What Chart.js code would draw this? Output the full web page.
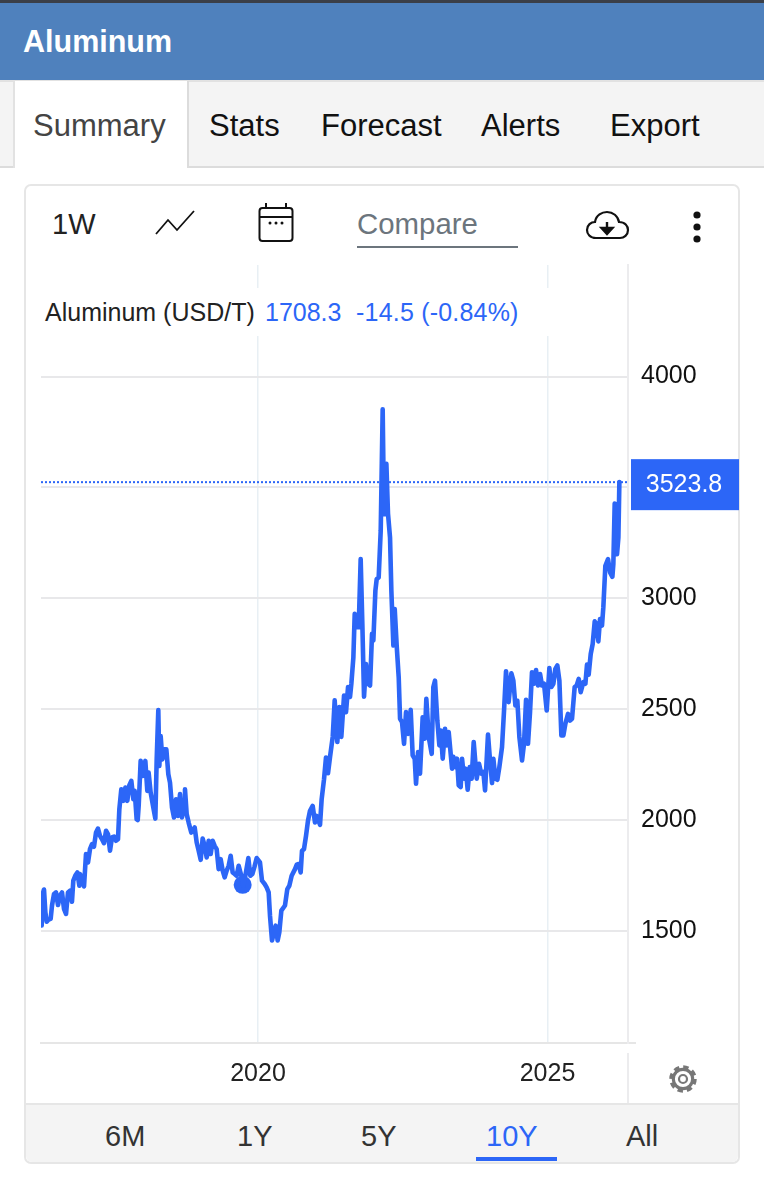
<!DOCTYPE html>
<html lang="en">
<head>
<meta charset="utf-8">
<title>Aluminum</title>
<script src="https://cdn.jsdelivr.net/npm/chart.js@4/dist/chart.umd.min.js"></script>
<style>
html,body{margin:0;padding:0;background:#fff;}
body{position:relative;width:764px;height:1200px;overflow:hidden;font-family:"Liberation Sans",Arial,sans-serif;color:#111;}
.a{position:absolute;white-space:nowrap;}
.box{position:absolute;box-sizing:border-box;}
svg{position:absolute;overflow:visible;left:0;top:0;}
canvas{position:absolute;left:0;top:0;pointer-events:none;}
</style>
</head>
<body>
<div class="box" style="left:0;top:0;width:764px;height:3px;background:#3b3f48"></div>
<div class="box" style="left:0;top:3px;width:764px;height:77px;background:#4f81bd"></div>
<div class="a" style="left:23px;top:21px;line-height:40px;font-size:30.5px;font-weight:bold;color:#fff">Aluminum</div>

<div class="box" style="left:0;top:80px;width:764px;height:88px;background:#f4f4f4;border-top:2px solid #e2e2e2;border-bottom:2px solid #dcdcdc"></div>
<div class="box" style="left:13px;top:81px;width:176px;height:87px;background:#fff;border-left:2px solid #e2e2e2;border-right:2px solid #dcdcdc"></div>
<div class="a" style="left:33px;top:105px;line-height:42px;font-size:31px;color:#444">Summary</div>
<div class="a" style="left:209px;top:105px;line-height:42px;font-size:31px">Stats</div>
<div class="a" style="left:321px;top:105px;line-height:42px;font-size:31px">Forecast</div>
<div class="a" style="left:481px;top:105px;line-height:42px;font-size:31px">Alerts</div>
<div class="a" style="left:610px;top:105px;line-height:42px;font-size:31px">Export</div>

<div class="box" style="left:24px;top:184px;width:716px;height:980px;border:2px solid #e6e6e6;border-radius:7px;background:#fff"></div>

<div class="a" style="left:52px;top:204px;line-height:40px;font-size:29px;color:#222">1W</div>
<div class="a" style="left:357px;top:204px;line-height:40px;font-size:29.4px;color:#6c757d">Compare</div>
<div class="box" style="left:357px;top:246px;width:161px;height:2px;background:#6c757d"></div>
<svg width="764" height="300" viewBox="0 0 764 300">
  <polyline points="156,234 168,220 177,230 194,211" fill="none" stroke="#111" stroke-width="1.8"/>
  <rect x="259.5" y="208" width="33" height="33" rx="3" fill="none" stroke="#111" stroke-width="2"/>
  <line x1="259" y1="217" x2="293" y2="217" stroke="#111" stroke-width="2"/>
  <line x1="266" y1="203" x2="266" y2="208" stroke="#111" stroke-width="2"/>
  <line x1="286" y1="203" x2="286" y2="208" stroke="#111" stroke-width="2"/>
  <circle cx="270" cy="223" r="1.5" fill="#111"/><circle cx="276" cy="223" r="1.5" fill="#111"/><circle cx="282" cy="223" r="1.5" fill="#111"/>
  <path d="M596,238 C590,238 587,234 587,230 C587,225 591,222 595,222 C596,215 602,212 607,212 C613,212 618,216 619,222 C625,222 628,226 628,230 C628,235 624,238 620,238 Z" fill="none" stroke="#111" stroke-width="2.2"/>
  <path d="M607,222 V229 M601.5,228 H612.5 L607,234 Z" fill="#111" stroke="#111" stroke-width="2.4"/>
  <circle cx="697" cy="215" r="3.6" fill="#111"/><circle cx="697" cy="227" r="3.6" fill="#111"/><circle cx="697" cy="239" r="3.6" fill="#111"/>
</svg>

<div class="box" style="left:627px;top:1053px;width:2px;height:50px;background:#ececee"></div>
<div class="box" style="left:628px;top:1042px;width:8px;height:2px;background:#e6e6e6"></div>

<div class="box" style="left:26px;top:1103px;width:712px;height:59px;background:#f4f4f4;border-top:2px solid #e6e6e6;border-radius:0 0 6px 6px"></div>
<div class="a" style="left:105px;top:1116px;line-height:40px;font-size:29px;color:#333">6M</div>
<div class="a" style="left:237px;top:1116px;line-height:40px;font-size:29px;color:#333">1Y</div>
<div class="a" style="left:361px;top:1116px;line-height:40px;font-size:29px;color:#333">5Y</div>
<div class="a" style="left:486px;top:1116px;line-height:40px;font-size:29px;color:#2c66f7">10Y</div>
<div class="a" style="left:626px;top:1116px;line-height:40px;font-size:29px;color:#333">All</div>
<div class="box" style="left:476px;top:1157px;width:81px;height:4px;background:#2c66f7"></div>

<svg width="764" height="1200" viewBox="0 0 764 1200">
  <g transform="translate(683,1079)" fill="none" stroke="#777">
    <circle r="10" stroke-width="2.4"/>
    <circle r="12" stroke-width="3.5" stroke-dasharray="5.4 4"/>
    <circle r="9.2" fill="#fff" stroke-width="2.2"/>
    <circle r="4" stroke-width="2.2"/>
  </g>
</svg>

<canvas id="chart" width="764" height="1200"></canvas>

<div class="box" style="left:30px;top:288px;width:570px;height:48px;background:#fff"></div>
<div class="a" style="left:45px;top:297px;line-height:30px;font-size:25px;color:#222">Aluminum (USD/T)</div>
<div class="a" style="left:265px;top:297px;line-height:30px;font-size:25px;color:#2c66f7">1708.3</div>
<div class="a" style="left:356px;top:297px;line-height:30px;font-size:25px;letter-spacing:.2px;color:#2c66f7">-14.5 (-0.84%)</div>

<script>
const years = [
2016.264,2016.281,2016.304,2016.327,2016.350,2016.384,2016.419,2016.442,2016.477,2016.511,2016.546,2016.580,2016.615,2016.649,2016.684,2016.718,2016.753,2016.787,2016.810,2016.845,2016.880,2016.914,2016.926,2016.960,2016.995,
2017.029,2017.064,2017.098,2017.133,2017.167,2017.202,2017.236,2017.271,2017.306,2017.340,2017.375,2017.409,2017.444,2017.478,2017.513,2017.547,2017.582,2017.605,2017.639,2017.674,2017.709,2017.743,2017.778,2017.812,2017.847,2017.870,2017.904,2017.922,2017.939,2017.973,
2018.008,2018.054,2018.088,2018.111,2018.146,2018.192,2018.227,2018.250,2018.278,2018.296,2018.319,2018.348,2018.382,2018.417,2018.451,2018.480,2018.515,2018.549,2018.584,2018.618,2018.653,2018.687,2018.722,2018.739,2018.768,2018.802,2018.848,2018.906,2018.941,2018.975,
2019.010,2019.044,2019.079,2019.113,2019.148,2019.182,2019.217,2019.251,2019.286,2019.320,2019.355,2019.390,2019.424,2019.459,2019.493,2019.528,2019.562,2019.597,2019.631,2019.666,2019.712,2019.746,2019.781,2019.833,2019.867,2019.902,2019.936,2019.977,
2020.034,2020.069,2020.115,2020.149,2020.184,2020.207,2020.242,2020.276,2020.305,2020.339,2020.368,2020.403,2020.466,2020.506,2020.541,2020.581,2020.639,2020.668,2020.702,2020.737,2020.760,2020.794,2020.829,2020.863,2020.898,2020.944,2020.984,
2021.013,2021.071,2021.099,2021.140,2021.174,2021.209,2021.244,2021.290,2021.324,2021.370,2021.405,2021.439,2021.486,2021.520,2021.555,2021.589,2021.612,2021.647,2021.670,2021.704,2021.739,2021.773,2021.802,2021.831,2021.865,2021.900,2021.935,2021.969,2021.992,
2022.027,2022.050,2022.084,2022.119,2022.153,2022.176,2022.199,2022.217,2022.245,2022.280,2022.303,2022.338,2022.361,2022.395,2022.430,2022.453,2022.487,2022.522,2022.556,2022.591,2022.637,2022.671,2022.706,2022.729,2022.764,2022.798,2022.844,2022.879,2022.907,2022.948,
2023.000,2023.028,2023.057,2023.097,2023.132,2023.155,2023.190,2023.230,2023.259,2023.293,2023.351,2023.374,2023.408,2023.437,2023.466,2023.500,2023.524,2023.558,2023.587,2023.621,2023.656,2023.690,2023.725,2023.777,2023.817,2023.857,2023.892,2023.921,2023.972,
2024.007,2024.042,2024.065,2024.099,2024.134,2024.168,2024.214,2024.249,2024.283,2024.329,2024.376,2024.410,2024.445,2024.479,2024.514,2024.560,2024.594,2024.629,2024.663,2024.698,2024.732,2024.767,2024.802,2024.836,2024.871,2024.905,2024.940,2024.986,
2025.032,2025.066,2025.101,2025.135,2025.170,2025.205,2025.239,2025.274,2025.308,2025.354,2025.389,2025.423,2025.469,2025.504,2025.539,2025.573,2025.619,2025.654,2025.682,2025.711,2025.746,2025.780,2025.815,2025.844,2025.878,2025.907,2025.941,2025.964,2025.999,
2026.045,2026.080,2026.120,2026.137,2026.160,2026.189,2026.200,2026.224,2026.241
];
const prices = [
1525,1667,1687,1585,1542,1552,1555,1615,1667,1674,1617,1660,1674,1600,1577,1674,1682,1632,1727,1750,1764,1704,1757,1734,1701,
1847,1809,1869,1892,1880,1944,1962,1929,1914,1896,1952,1937,1862,1922,1926,1907,1914,2049,2139,2087,2147,2087,2157,2177,2094,2132,2004,2000,2064,2267,
2199,2267,2132,2214,2124,2057,2007,2274,2496,2244,2379,2274,2319,2319,2207,2169,2057,2012,2094,2019,2117,2012,2064,2139,2027,1989,1944,1967,1899,1862,
1821,1917,1884,1832,1907,1847,1907,1884,1869,1779,1824,1772,1742,1772,1794,1839,1764,1757,1749,1794,1749,1704,1749,1829,1749,1757,1787,1829,
1809,1727,1712,1697,1674,1569,1457,1494,1524,1457,1494,1592,1615,1689,1704,1749,1779,1799,1802,1764,1862,1869,1929,1997,2042,2064,1989,
2019,1979,2094,2184,2282,2212,2285,2375,2540,2352,2510,2375,2562,2487,2600,2555,2615,2734,2930,2870,2870,3177,2884,2557,2704,2615,2607,2840,2810,
3034,3087,3094,3304,3852,3379,3379,3607,3382,3274,3034,2787,2952,2787,2644,2457,2442,2344,2487,2389,2497,2292,2277,2164,2307,2209,2464,2367,2547,2375,
2299,2600,2629,2449,2337,2404,2277,2412,2337,2397,2232,2285,2239,2277,2157,2149,2277,2187,2232,2137,2239,2187,2352,2187,2254,2209,2217,2134,2386,
2269,2167,2277,2187,2182,2239,2329,2494,2671,2532,2662,2629,2517,2539,2375,2269,2344,2542,2344,2487,2667,2615,2677,2607,2659,2607,2615,2494,
2686,2600,2615,2682,2697,2629,2382,2382,2434,2479,2449,2457,2600,2607,2637,2577,2622,2615,2701,2656,2749,2794,2896,2884,2806,2907,2877,2959,3147,
3177,3117,3097,3154,3427,3424,3199,3274,3523.8
];
const yTicks = [1500, 2000, 2500, 3000, 3500, 4000];
const yHiddenLabel = 3500;
const xTicks = [2020, 2025];
const lastPrice = 3523.8;
const markerYear = 2019.735;
const markerPrice = 1708.3;
const xRange = [2016.252, 2026.39];
const yRange = [995, 4503];

const blue = '#2c66f7';
const pts = years.map((x, i) => ({x, y: prices[i]}));

const lastLabel = {
  id: 'lastLabel',
  afterDraw(chart) {
    const c = chart.ctx, y = chart.scales.y.getPixelForValue(lastPrice);
    c.save();
    c.fillStyle = blue;
    c.fillRect(631, y - 23, 108, 51);
    c.fillStyle = '#fff';
    c.font = '25px "Liberation Sans", Arial, sans-serif';
    c.textAlign = 'center';
    c.textBaseline = 'middle';
    c.fillText(lastPrice.toFixed(1), 684, y + 3);
    c.restore();
  }
};

new Chart(document.getElementById('chart'), {
  type: 'line',
  data: {
    datasets: [
      {data: [{x: markerYear, y: markerPrice}], type: 'scatter', pointRadius: 9, pointBackgroundColor: blue, pointBorderWidth: 0, order: 1},
      {data: [{x: xRange[0], y: lastPrice}, {x: xRange[1], y: lastPrice}], borderColor: blue, borderWidth: 2, borderDash: [2, 2], pointRadius: 0, order: 2},
      {data: pts, borderColor: blue, borderWidth: 4.6, pointRadius: 0, tension: 0, borderJoinStyle: 'round', borderCapStyle: 'round', order: 0}
    ]
  },
  options: {
    responsive: false,
    animation: false,
    events: [],
    layout: {padding: {left: 41, top: 265, right: 0, bottom: 0}},
    plugins: {legend: {display: false}, tooltip: {enabled: false}},
    scales: {
      x: {
        type: 'linear',
        min: xRange[0], max: xRange[1],
        afterBuildTicks(s) { s.ticks = xTicks.map(value => ({value})); },
        afterFit(s) { s.height = 157; },
        grid: {color: '#e8eff4', lineWidth: 1.5, drawTicks: false},
        border: {color: '#e6e6e6', width: 2},
        ticks: {
          color: '#222', padding: 16, maxRotation: 0,
          font: {family: '"Liberation Sans", Arial, sans-serif', size: 25},
          callback: v => String(v)
        }
      },
      y: {
        type: 'linear',
        position: 'right',
        min: yRange[0], max: yRange[1],
        afterBuildTicks(s) { s.ticks = yTicks.map(value => ({value})); },
        afterFit(s) { s.width = 136; },
        grid: {color: '#e8e8ea', lineWidth: 2, drawTicks: false},
        border: {color: '#ececee', width: 2},
        ticks: {
          color: '#111', padding: 13, align: 'center',
          font: {family: '"Liberation Sans", Arial, sans-serif', size: 25},
          callback: v => v === yHiddenLabel ? '' : String(v)
        }
      }
    }
  },
  plugins: [lastLabel]
});
</script>
</body>
</html>
